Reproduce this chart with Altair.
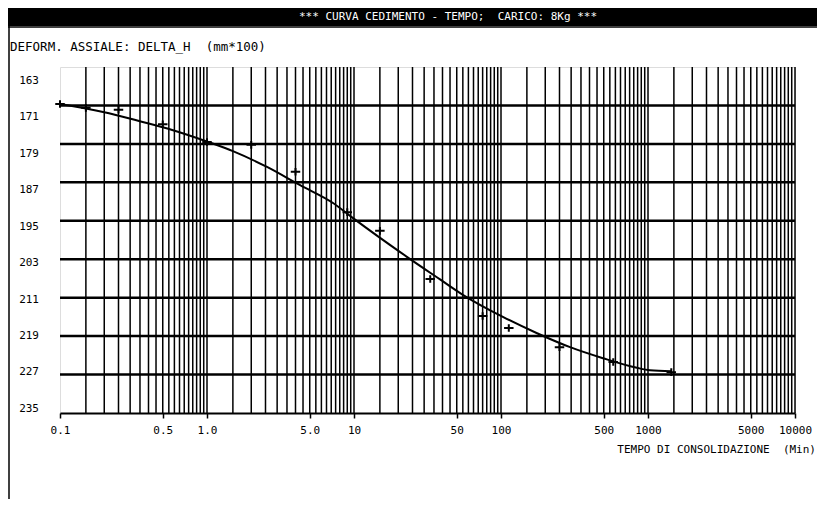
import altair as alt
import pandas as pd

# ---- data ----
curve_t = [0.1, 0.2, 0.34, 0.58, 1.02, 1.5, 2.56, 4.3, 7.2, 9.8, 22.9, 38.5, 55, 103, 176, 295, 494, 840, 1030, 1440]
curve_y = [170.7, 172.4, 174.2, 176.1, 178.6, 180.5, 183.8, 187.6, 191.3, 194.4, 202.5, 207.2, 210.4, 215.0, 218.4, 221.3, 223.6, 225.6, 226.1, 226.3]

point_t = [0.1, 0.15, 0.25, 0.5, 1.0, 2.0, 4.0, 9.0, 15, 33, 75, 113, 250, 580, 1440]
point_y = [170.7, 171.5, 171.9, 174.9, 178.6, 179.2, 184.8, 193.2, 197.1, 207.1, 214.8, 217.3, 221.3, 224.4, 226.5]

y_labels = [163, 171, 179, 187, 195, 203, 211, 219, 227, 235]
h_lines = [171, 179, 187, 195, 203, 211, 219, 227]
x_tick_values = [0.1, 0.5, 1, 5, 10, 50, 100, 500, 1000, 5000, 10000]
decades = [0.1, 1, 10, 100, 1000]
multipliers = [1.5, 2, 2.5, 3, 3.5, 4, 4.5, 5, 5.5, 6, 6.5, 7, 7.5, 8, 8.5, 9, 9.5, 10]

NB = "\u00a0"
title_text = "***" + NB + "CURVA CEDIMENTO - TEMPO;" + NB + NB + "CARICO: 8Kg ***"
y_title_text = "DEFORM. ASSIALE: DELTA_H" + NB + NB + "(mm*100)"
x_title_text = "TEMPO DI CONSOLIDAZIONE" + NB + NB + "(Min)"

FONT = "DejaVu Sans Mono"

grid_x = [d * m for d in decades for m in multipliers]

xs = alt.Scale(type="log", domain=[0.1, 10000], nice=False)
ys = alt.Scale(domain=[163, 235], reverse=True, nice=False, zero=False)

curve_df = pd.DataFrame({"t": curve_t, "y": curve_y})
pts_df = pd.DataFrame({"t": point_t, "y": point_y})
vgrid_df = pd.DataFrame({"t": grid_x})
hgrid_df = pd.DataFrame({"y": h_lines})
ylab_df = pd.DataFrame({"v": y_labels})

x_axis = alt.Axis(
    values=x_tick_values,
    labelExpr="datum.value < 10 ? format(datum.value, '.1f') : format(datum.value, 'd')",
    grid=False, ticks=True, tickSize=5, tickColor="black", tickWidth=1.5,
    domain=True, domainColor="black", domainWidth=2,
    labelFont=FONT, labelFontSize=11, labelColor="black", labelPadding=6,
    labelFlush=False, labelOverlap=False, title=None,
)

vgrid = alt.Chart(vgrid_df).mark_rule(color="black", strokeWidth=1.5).encode(
    x=alt.X("t:Q", scale=xs, axis=x_axis)
)
hgrid = alt.Chart(hgrid_df).mark_rule(color="black", strokeWidth=2.5).encode(
    y=alt.Y("y:Q", scale=ys, axis=None)
)
curve = alt.Chart(curve_df).mark_line(color="black", strokeWidth=2, interpolate="monotone").encode(
    x=alt.X("t:Q", scale=xs), y=alt.Y("y:Q", scale=ys)
)
pts = alt.Chart(pts_df).mark_point(
    shape="M-1,0H1M0,-0.8V0.8", filled=False, color="black", strokeWidth=2, size=90, opacity=1
).encode(x=alt.X("t:Q", scale=xs), y=alt.Y("y:Q", scale=ys))

ylabels = alt.Chart(ylab_df).transform_calculate(
    pos="165.9 + (datum.v - 163) * 0.948"
).mark_text(font=FONT, fontSize=11, align="right", baseline="middle", color="black").encode(
    y=alt.Y("pos:Q", scale=ys), x=alt.value(-21), text=alt.Text("v:Q")
)

one = pd.DataFrame({"a": [0]})
title_bar = alt.Chart(one).mark_rect(color="black").encode(
    x=alt.value(-52), x2=alt.value(780), y=alt.value(-59), y2=alt.value(-41)
)
title = alt.Chart(one).mark_text(font=FONT, fontSize=11, color="white", align="center", baseline="middle",
                                 text=title_text).encode(x=alt.value(388), y=alt.value(-50))
frame_left = alt.Chart(one).mark_rule(color="black", strokeWidth=1.5).encode(
    x=alt.value(-51), y=alt.value(-41), y2=alt.value(460)
)
frame_top = alt.Chart(one).mark_rule(color="black", strokeWidth=1.5).encode(
    x=alt.value(-52), x2=alt.value(780), y=alt.value(-40)
)
ytitle = alt.Chart(one).mark_text(font=FONT, fontSize=12.5, color="black", align="left", baseline="middle",
                                  text=y_title_text).encode(x=alt.value(-50), y=alt.value(-20))
xtitle = alt.Chart(one).mark_text(font=FONT, fontSize=11, color="black", align="right", baseline="middle",
                                  text=x_title_text).encode(x=alt.value(756), y=alt.value(383))

chart = alt.layer(
    vgrid, hgrid, curve, pts, ylabels, title_bar, title, frame_left, frame_top, ytitle, xtitle
).properties(
    width=735, height=346,
    padding={"left": 52, "top": 59, "right": 22, "bottom": 86},
    autosize=alt.AutoSizeParams(type="none"),
).configure_view(stroke="black", strokeWidth=2).configure(background="white")

chart.save("out.html", embed_options={"renderer": "svg", "actions": False})
